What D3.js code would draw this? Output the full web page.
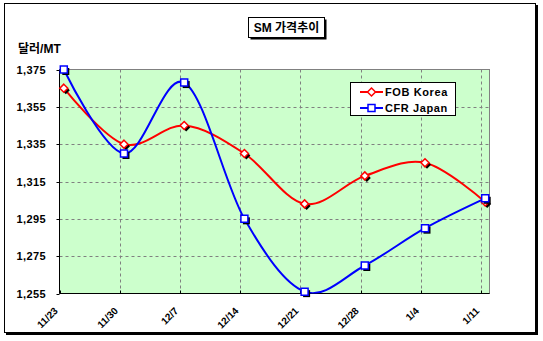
<!DOCTYPE html>
<html>
<head>
<meta charset="utf-8">
<script src="https://cdn.jsdelivr.net/npm/d3@7"></script>
<style>
  body { margin: 0; background: #fff; }
  text { font-family: "Liberation Sans", Arial, "Noto Sans CJK KR", sans-serif; font-weight: bold; fill: #000; }
</style>
</head>
<body>
<svg id="chart" width="543" height="341"></svg>
<script>
// Weekly SM price data (USD per metric ton)
const dates = ["11/23", "11/30", "12/7", "12/14", "12/21", "12/28", "1/4", "1/11"];
const fobKorea = [1365, 1335, 1345, 1330, 1303, 1318, 1325, 1304];
const cfrJapan = [1375, 1330, 1368, 1295, 1256, 1270, 1290, 1306];
const seriesNames = ["FOB Korea", "CFR Japan"];
const seriesColors = ["#FF0000", "#0000FF"];
const yTicks = [1255, 1275, 1295, 1315, 1335, 1355, 1375];
const chartTitle = "SM 가격추이";
const unitLabel = "달러/MT";

// Turn "m/d" strings into real dates, rolling the year over after December
function parseDates(list) {
  let year = 2001, prevMonth = 0;
  return list.map(s => {
    const [m, d] = s.split("/").map(Number);
    if (m < prevMonth) year += 1;
    prevMonth = m;
    return new Date(year, m - 1, d);
  });
}
const when = parseDates(dates);

const svg = d3.select("#chart");
const plot = { left: 59.5, right: 489.5, top: 69.5, bottom: 293.5 };

// Date axis: each day takes one slot, points sit in the middle of their day
const x = d3.scaleTime()
  .domain([when[0], d3.timeDay.offset(when[when.length - 1], 1)])
  .range([plot.left, plot.right]);
const xPoint = d => x(d3.timeHour.offset(d, 12));
const y = d3.scaleLinear().domain([yTicks[0], yTicks[yTicks.length - 1]]).range([plot.bottom, plot.top]);

// Outer frame with drop shadow
svg.append("rect").attr("x", 6).attr("y", 5).attr("width", 532).attr("height", 330).attr("fill", "#000");
svg.append("rect").attr("x", 4.5).attr("y", 3.5).attr("width", 531).attr("height", 329)
  .attr("fill", "#fff").attr("stroke", "#000").attr("stroke-width", 1);

// Title box
const tb = { x: 248.5, y: 17.5, w: 76, h: 20 };
svg.append("rect").attr("x", tb.x + 2).attr("y", tb.y + 2).attr("width", tb.w).attr("height", tb.h).attr("fill", "#000");
svg.append("rect").attr("x", tb.x).attr("y", tb.y).attr("width", tb.w).attr("height", tb.h)
  .attr("fill", "#fff").attr("stroke", "#000");
svg.append("text").attr("x", tb.x + tb.w / 2).attr("y", 32).attr("text-anchor", "middle")
  .style("font-size", "12px").text(chartTitle);

// Unit label
svg.append("text").attr("x", 18).attr("y", 53).style("font-size", "12px").text(unitLabel);

// Plot background
svg.append("rect").attr("x", plot.left).attr("y", plot.top)
  .attr("width", plot.right - plot.left).attr("height", plot.bottom - plot.top)
  .attr("fill", "#CCFFCC").attr("stroke", "#808080").attr("stroke-width", 1);

// Gridlines
const grid = svg.append("g").attr("stroke", "#808080").attr("stroke-width", 1).attr("stroke-dasharray", "3,3");
yTicks.slice(1, -1).forEach(v => {
  const yy = Math.round(y(v)) + 0.5;
  grid.append("line").attr("x1", plot.left).attr("x2", plot.right).attr("y1", yy).attr("y2", yy);
});
when.slice(1).forEach(d => {
  const xx = Math.round(x(d)) + 0.5;
  grid.append("line").attr("x1", xx).attr("x2", xx).attr("y1", plot.top).attr("y2", plot.bottom);
});

// Axes
const axisG = svg.append("g").attr("stroke", "#000").attr("stroke-width", 1);
axisG.append("line").attr("x1", plot.left).attr("x2", plot.left).attr("y1", plot.top).attr("y2", plot.bottom);
axisG.append("line").attr("x1", plot.left).attr("x2", plot.right).attr("y1", plot.bottom).attr("y2", plot.bottom);
yTicks.forEach(v => {
  const yy = Math.round(y(v)) + 0.5;
  axisG.append("line").attr("x1", plot.left - 3).attr("x2", plot.left).attr("y1", yy).attr("y2", yy);
});
when.forEach(d => {
  const xx = Math.round(x(d)) + 0.5;
  axisG.append("line").attr("x1", xx).attr("x2", xx).attr("y1", plot.bottom - 3).attr("y2", plot.bottom);
});

// Y tick labels
const fmt = d3.format(",");
svg.append("g").selectAll("text").data(yTicks).join("text")
  .attr("x", 46).attr("y", d => y(d) + 4).attr("text-anchor", "end")
  .style("font-size", "11px").style("letter-spacing", "0.4px")
  .text(d => fmt(d));

// X tick labels, rotated
svg.append("g").selectAll("text").data(when).join("text")
  .attr("transform", d => `translate(${x(d) - 1},311.5) rotate(-45)`)
  .attr("text-anchor", "end")
  .style("font-size", "10px")
  .text((d, i) => dates[i]);

// Series lines (smoothed)
svg.append("clipPath").attr("id", "plotClip").append("rect")
  .attr("x", plot.left).attr("y", plot.top).attr("width", plot.right - plot.left).attr("height", plot.bottom - plot.top);

const series = [fobKorea, cfrJapan];
const line = d3.line()
  .x((v, i) => xPoint(when[i]))
  .y(v => y(v))
  .curve(d3.curveCatmullRom.alpha(0));

const lineG = svg.append("g").attr("clip-path", "url(#plotClip)");
series.forEach((vals, s) => {
  lineG.append("path").attr("d", line(vals)).attr("fill", "none")
    .attr("stroke", seriesColors[s]).attr("stroke-width", 2);
});

// Marker shapes
const diamond = (cx, cy, r) => `M${cx},${cy - r}L${cx + r},${cy}L${cx},${cy + r}L${cx - r},${cy}Z`;
const square = (cx, cy, r) => `M${cx - r},${cy - r}h${2 * r}v${2 * r}h${-2 * r}Z`;
const shapes = [(cx, cy) => diamond(cx, cy, 4), (cx, cy) => square(cx, cy, 3.5)];

series.forEach((vals, s) => {
  const g = svg.append("g");
  vals.forEach((v, i) => {
    const cx = xPoint(when[i]), cy = y(v);
    g.append("path").attr("d", shapes[s](cx + 2, cy + 2)).attr("fill", "#000");
  });
  vals.forEach((v, i) => {
    const cx = xPoint(when[i]), cy = y(v);
    g.append("path").attr("d", shapes[s](cx, cy)).attr("fill", "#fff")
      .attr("stroke", seriesColors[s]).attr("stroke-width", 1.5);
  });
});

// Legend
const lg = svg.append("g");
lg.append("rect").attr("x", 350.5).attr("y", 82.5).attr("width", 105).attr("height", 33)
  .attr("fill", "#fff").attr("stroke", "#000");
seriesNames.forEach((name, s) => {
  const ly = 92 + s * 16;
  lg.append("line").attr("x1", 360).attr("x2", 383).attr("y1", ly).attr("y2", ly)
    .attr("stroke", seriesColors[s]).attr("stroke-width", 2);
  lg.append("path").attr("d", shapes[s](371.5, ly)).attr("fill", "#fff")
    .attr("stroke", seriesColors[s]).attr("stroke-width", 1.5);
  lg.append("text").attr("x", 385).attr("y", ly + 4).style("font-size", "11px")
    .style("letter-spacing", "0.6px").text(name);
});
</script>
</body>
</html>
